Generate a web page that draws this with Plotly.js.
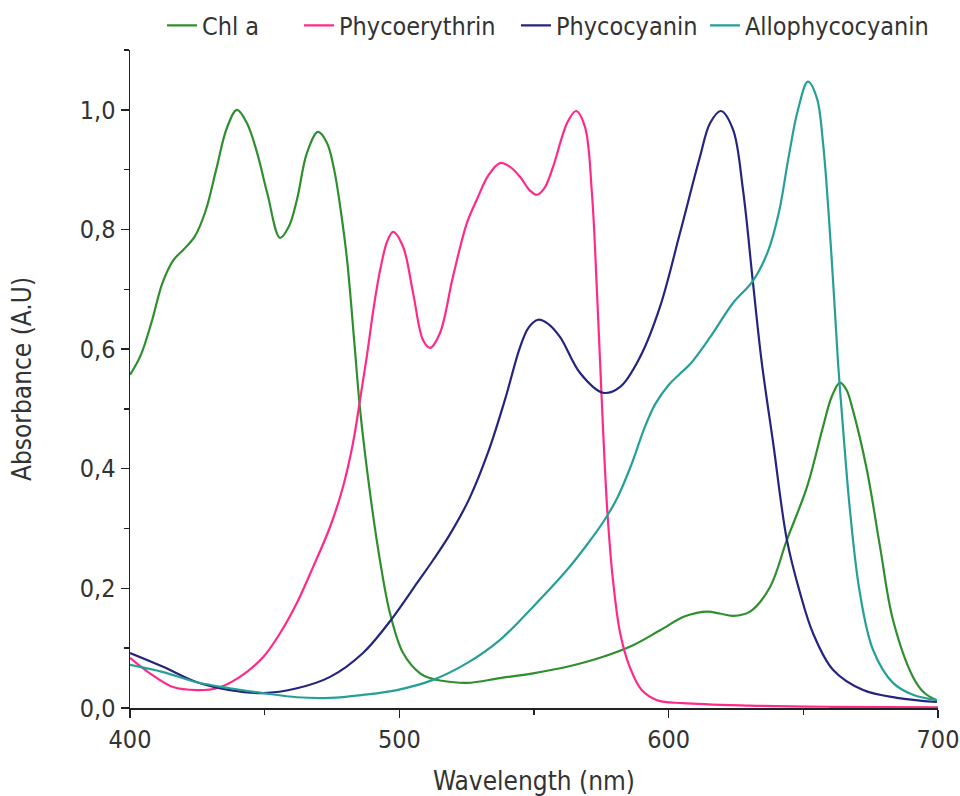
<!DOCTYPE html>
<html>
<head>
<meta charset="utf-8">
<script src="https://cdn.plot.ly/plotly-3.0.1.min.js"></script>
<style>html,body{margin:0;padding:0;background:#fff;}#chart{width:960px;height:796px;}</style>
</head>
<body>
<div id="chart"></div>
<script>
// Series names
const seriesNames = ["Chl a", "Phycoerythrin", "Phycocyanin", "Allophycocyanin"];

// Chl a
const chlX = [400,404,408,412,416,420,424,428,432,436,439.7,443.4,447.2,451,455.7,459,462,465.7,469.8,473.1,475.8,478.3,480.6,483.5,485.4,489.1,492.8,496.5,501.4,507.7,511.4,515.1,525.1,537.4,549.6,562.3,574.5,586.8,596.8,605.3,610.5,614.5,619,623.9,630.2,637.6,643.9,651.4,657.3,660.5,663.6,666,668.4,673.6,678.5,683.3,690.7,695,699.6];
const chlY = [0.557,0.59,0.645,0.71,0.748,0.767,0.788,0.83,0.9,0.97,1.0,0.978,0.928,0.86,0.786,0.805,0.85,0.928,0.963,0.945,0.9,0.83,0.749,0.6,0.5,0.36,0.247,0.159,0.092,0.058,0.05,0.046,0.042,0.05,0.058,0.069,0.084,0.105,0.13,0.152,0.159,0.161,0.158,0.154,0.161,0.202,0.281,0.37,0.47,0.52,0.544,0.532,0.498,0.398,0.269,0.147,0.052,0.025,0.013];

// Phycoerythrin
const peX = [400,407.4,416,424.9,432.3,440.8,449.4,455.7,462,468,474.3,479.1,482.8,485.4,488,490.5,493,495.5,497.7,501.4,505.1,508.8,511.4,515.1,519.9,525.1,528.8,533,537.4,541,544.8,548.5,551.1,554,557.1,562.3,565.6,568.9,571.5,573.4,574.5,575.6,577.2,579.2,582,585.6,590,595.7,605.3,630,660,700];
const peY = [0.084,0.058,0.035,0.03,0.033,0.052,0.085,0.125,0.176,0.236,0.303,0.37,0.443,0.515,0.59,0.67,0.735,0.78,0.796,0.771,0.694,0.615,0.602,0.627,0.721,0.811,0.85,0.89,0.911,0.905,0.888,0.865,0.858,0.87,0.905,0.978,0.998,0.972,0.861,0.694,0.582,0.47,0.331,0.219,0.125,0.068,0.03,0.013,0.008,0.004,0.002,0.001];

// Phycocyanin
const pcX = [400,412.3,424.9,437.1,449.4,462,474.3,486.5,497.7,506.6,512.5,519,526,533,539.2,544.8,548,551.5,555,559.7,567.1,575.6,582,589.4,596.8,604.2,611.6,615.4,619.4,623.9,627.6,631.3,634.5,638.8,643.9,648.8,653.6,661,672.2,684.8,699.6];
const pcY = [0.092,0.069,0.043,0.03,0.025,0.033,0.052,0.092,0.152,0.209,0.247,0.292,0.35,0.428,0.515,0.603,0.636,0.649,0.643,0.62,0.56,0.527,0.537,0.587,0.671,0.794,0.921,0.978,0.998,0.967,0.866,0.711,0.58,0.443,0.281,0.192,0.125,0.064,0.03,0.017,0.01];

// Allophycocyanin
const apcX = [400,412.3,424.9,437.1,449.4,462,474.3,486.5,499.1,512.5,525.1,537.4,549.6,562.3,570,576,581,586,591,595,600,604,608,615.4,623.9,631.3,637,641,644.5,648,651.7,655,657.3,659.5,661.5,663,664.7,667.3,671,675.9,683.3,690.7,699.6];
const apcY = [0.072,0.06,0.043,0.033,0.025,0.018,0.017,0.022,0.03,0.047,0.075,0.114,0.169,0.231,0.275,0.313,0.352,0.405,0.468,0.508,0.54,0.558,0.575,0.62,0.677,0.714,0.765,0.83,0.92,1.0,1.047,1.02,0.945,0.82,0.68,0.57,0.47,0.331,0.192,0.097,0.042,0.022,0.013];

const colors = ["#2f8f2f", "#ff2a88", "#25257f", "#25a097"];

const xs = [chlX, peX, pcX, apcX];
const ys = [chlY, peY, pcY, apcY];

const FONT = "Liberation Sans Narrow, Arial Narrow, DejaVu Sans Condensed, Liberation Sans, Arial, sans-serif";

const legendIds = ["legend", "legend2", "legend3", "legend4"];
const legendX = [0.0396, 0.2092, 0.4777, 0.7116];

const traces = seriesNames.map((n, i) => ({
  x: xs[i], y: ys[i], name: n, type: "scatter", mode: "lines",
  legend: legendIds[i],
  line: {color: colors[i], width: 2.2, shape: "spline", smoothing: 1}
}));

const xTicks = [400, 500, 600, 700];

const layout = {
  width: 960, height: 796,
  margin: {l: 130, r: 22, t: 50, b: 88, autoexpand: false},
  paper_bgcolor: "#fff", plot_bgcolor: "#fff",
  separators: ",.",
  font: {family: FONT, color: "#333"},
  showlegend: true,
  xaxis: {
    range: [400, 700], tickvals: xTicks, ticktext: xTicks.map(String),
    showline: true, linecolor: "#222", linewidth: 1.5, mirror: false,
    ticks: "outside", ticklen: 8, tickwidth: 1.5, tickcolor: "#222",
    minor: {dtick: 50, tick0: 400, ticks: "outside", ticklen: 5, tickwidth: 1.5, tickcolor: "#222"},
    showgrid: false, zeroline: false,
    tickfont: {size: 25, family: FONT, color: "#333"},
    title: {text: "Wavelength (nm)", font: {size: 26, family: FONT, color: "#333"}, standoff: 26}
  },
  yaxis: {
    range: [0, 1.1], dtick: 0.2, tick0: 0, tickformat: ".1f",
    showline: true, linecolor: "#222", linewidth: 1.5, mirror: false,
    ticks: "outside", ticklen: 8, tickwidth: 1.5, tickcolor: "#222",
    minor: {dtick: 0.1, tick0: 0, ticks: "outside", ticklen: 5, tickwidth: 1.5, tickcolor: "#222"},
    showgrid: false, zeroline: false,
    tickfont: {size: 25, family: FONT, color: "#333"},
    title: {text: "Absorbance (A.U)", font: {size: 26, family: FONT, color: "#333"}, standoff: 40}
  }
};

legendIds.forEach((id, i) => {
  layout[id] = {orientation: "h", x: legendX[i], xanchor: "left", y: 1.037, yanchor: "middle",
    font: {size: 25, family: FONT, color: "#333"}, itemwidth: 30,
    bgcolor: "rgba(0,0,0,0)"};
});

Plotly.newPlot("chart", traces, layout, {displayModeBar: false, staticPlot: true});
</script>
</body>
</html>
